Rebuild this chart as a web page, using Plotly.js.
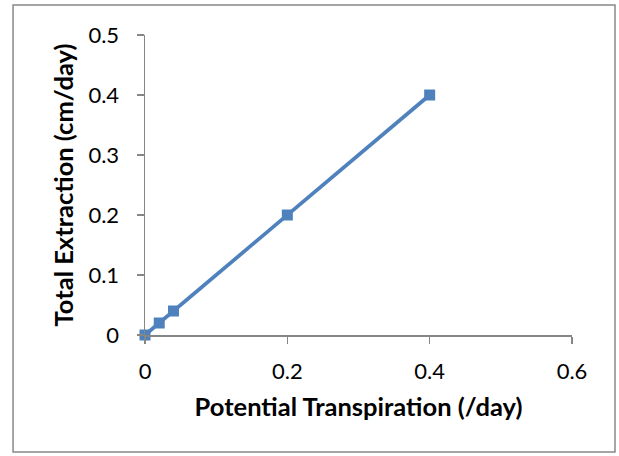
<!DOCTYPE html>
<html>
<head>
<meta charset="utf-8">
<script src="https://cdn.plot.ly/plotly-3.0.1.min.js"></script>
<style>html,body{margin:0;padding:0;background:#fff;}#chart{width:619px;height:456px;}</style>
</head>
<body>
<div id="chart"></div>
<script>
const potentialTranspiration = [0, 0.02, 0.04, 0.2, 0.4];
const totalExtraction = [0, 0.02, 0.04, 0.2, 0.4];
const xTicks = [0, 0.2, 0.4, 0.6];
const xTickLabels = ['0', '0.2', '0.4', '0.6'];
const yTicks = [0, 0.1, 0.2, 0.3, 0.4, 0.5];
const yTickLabels = ['0', '0.1', '0.2', '0.3', '0.4', '0.5'];

const fontFam = 'Lato, "Open Sans", sans-serif';
const axisColor = '#868686';

Plotly.newPlot('chart', [{
  x: potentialTranspiration,
  y: totalExtraction,
  type: 'scatter',
  mode: 'lines+markers',
  line: {color: '#4F81BD', width: 3.75},
  marker: {symbol: 'square', size: 11, color: '#4F81BD'},
  cliponaxis: false,
  showlegend: false
}], {
  width: 619, height: 456,
  margin: {l: 145, r: 47, t: 35, b: 121},
  paper_bgcolor: '#fff', plot_bgcolor: '#fff',
  font: {family: fontFam, color: '#000'},
  xaxis: {
    range: [0, 0.6], tickvals: xTicks, ticktext: xTickLabels,
    showgrid: false, zeroline: false, showline: true, linecolor: axisColor, linewidth: 1.5,
    ticks: 'outside', ticklen: 7, tickcolor: axisColor, tickwidth: 1.5,
    ticklabelstandoff: 9,
    tickfont: {size: 22, family: fontFam},
    title: {text: '<b>Potential Transpiration (/day)</b>', font: {size: 25.5, family: fontFam}, standoff: 15}
  },
  yaxis: {
    range: [0, 0.5], tickvals: yTicks, ticktext: yTickLabels,
    showgrid: false, zeroline: false, showline: true, linecolor: axisColor, linewidth: 1.5,
    ticks: 'outside', ticklen: 7, tickcolor: axisColor, tickwidth: 1.5,
    ticklabelstandoff: 13,
    tickfont: {size: 22, family: fontFam},
    title: {text: '<b>Total Extraction (cm/day)</b>', font: {size: 25.5, family: fontFam}, standoff: 7}
  },
  shapes: [{
    type: 'rect', xref: 'paper', yref: 'paper',
    x0: -0.309, x1: 1.1007, y0: -0.39, y1: 1.1,
    line: {color: '#888', width: 1.5}, fillcolor: 'rgba(0,0,0,0)', layer: 'below'
  }]
}, {displayModeBar: false, staticPlot: true});
</script>
</body>
</html>
